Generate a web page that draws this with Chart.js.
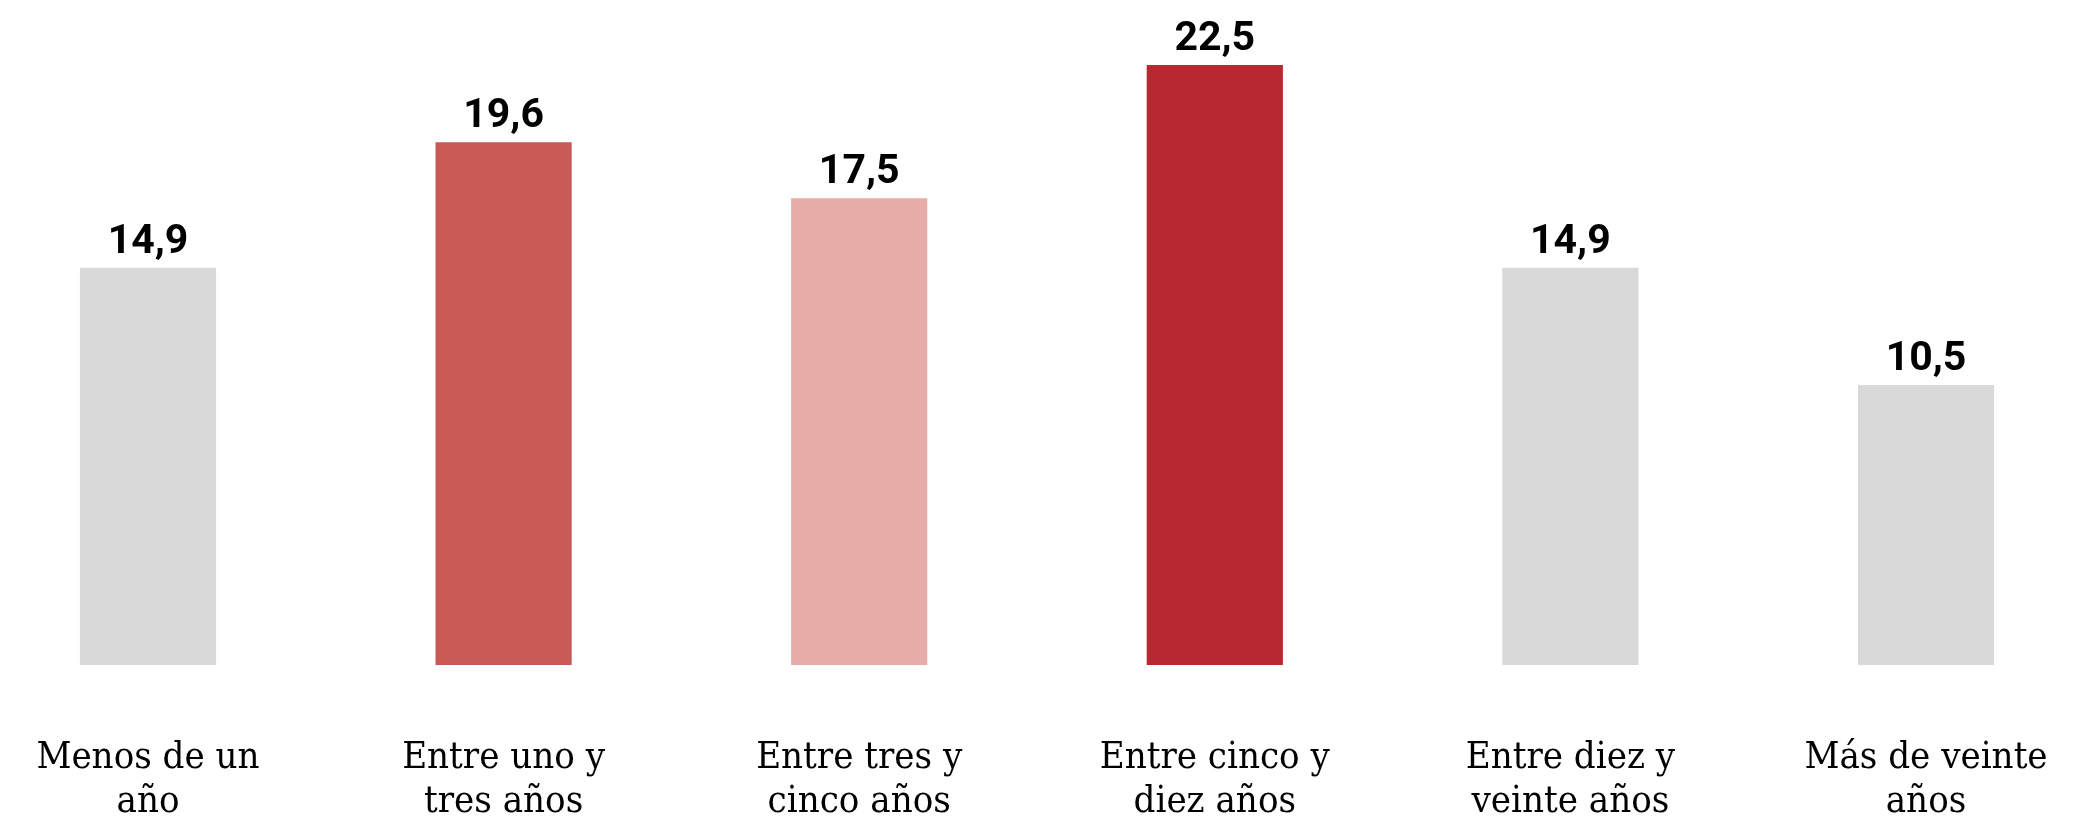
<!DOCTYPE html>
<html>
<head>
<meta charset="utf-8">
<script src="https://cdn.jsdelivr.net/npm/chart.js@4"></script>
<style>
  html, body { margin: 0; padding: 0; background: #fff; }
  #wrap { width: 2100px; height: 821px; }
</style>
</head>
<body>
<div id="wrap"><canvas id="chart" width="2100" height="821"></canvas></div>
<script>
// Data
const categories = [
  ["Menos de un", "año"],
  ["Entre uno y", "tres años"],
  ["Entre tres y", "cinco años"],
  ["Entre cinco y", "diez años"],
  ["Entre diez y", "veinte años"],
  ["Más de veinte", "años"],
];
const values = [14.9, 19.6, 17.5, 22.5, 14.9, 10.5];
const barColors = ["#d9d9d9", "#c75a55", "#e7aca7", "#b72830", "#d9d9d9", "#d9d9d9"];

const LABEL_FONT = "'DejaVu Serif Condensed', 'DejaVu Serif', serif";

// Value labels above each bar, decimal comma
const valueLabels = {
  id: "valueLabels",
  afterDatasetsDraw(chart) {
    const ctx = chart.ctx;
    const meta = chart.getDatasetMeta(0);
    ctx.save();
    ctx.font = "bold 41px Roboto, sans-serif";
    ctx.fillStyle = "#000";
    ctx.textAlign = "center";
    ctx.textBaseline = "alphabetic";
    meta.data.forEach((bar, i) => {
      const txt = values[i].toFixed(1).replace(".", ",");
      ctx.fillText(txt, bar.x, bar.y - 15);
    });
    ctx.restore();
  }
};

const ctx = document.getElementById("chart").getContext("2d");
const chart = new Chart(ctx, {
  type: "bar",
  data: {
    labels: categories,
    datasets: [{
      data: values,
      backgroundColor: barColors,
      borderWidth: 0,
      categoryPercentage: 1,
      barPercentage: 0.383,
      clip: false,
    }]
  },
  options: {
    responsive: false,
    animation: false,
    layout: { padding: { left: 148, right: 174, top: 25, bottom: 0 } },
    plugins: {
      legend: { display: false },
      tooltip: { enabled: false },
    },
    scales: {
      x: {
        offset: false,
        // invisible tick marks push the labels down without widening the side padding
        grid: {
          display: true,
          drawOnChartArea: false,
          drawTicks: true,
          tickLength: 71,
          color: "rgba(0,0,0,0)",
        },
        border: { display: false },
        ticks: {
          color: "#000",
          padding: 0,
          maxRotation: 0,
          autoSkip: false,
          font: { family: LABEL_FONT, size: 38, lineHeight: 1.16 },
        },
        afterFit(scale) { scale.height = 156; },
      },
      y: {
        display: false,
        min: 0,
        max: 24,
      }
    }
  },
  plugins: [valueLabels]
});
</script>
</body>
</html>
